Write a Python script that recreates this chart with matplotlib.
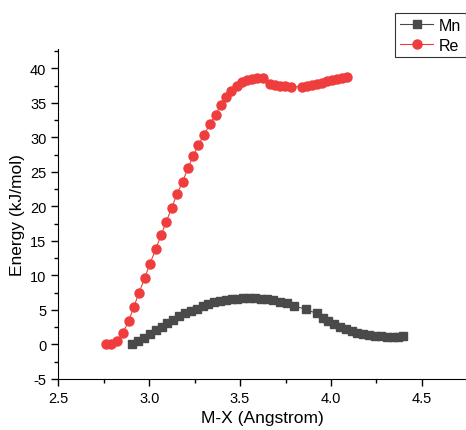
import numpy as np
import matplotlib.pyplot as plt
from matplotlib.ticker import MultipleLocator

plt.rcParams['font.family'] = ['Liberation Sans', 'DejaVu Sans']
plt.rcParams['axes.unicode_minus'] = False

# Mn scan
mn_x = [2.905, 2.940, 2.971, 3.004, 3.036, 3.068, 3.099, 3.132, 3.165, 3.197,
        3.228, 3.261, 3.294, 3.325, 3.358, 3.389, 3.422, 3.454, 3.484, 3.517,
        3.550, 3.581, 3.615, 3.646, 3.682, 3.720, 3.756, 3.796, 3.860, 3.921,
        3.954, 3.985, 4.016, 4.049, 4.082, 4.113, 4.144, 4.177, 4.210, 4.241,
        4.274, 4.306, 4.339, 4.370, 4.398]
mn_y = [0.06, 0.5, 1.0, 1.5, 2.1, 2.6, 3.1, 3.6, 4.1, 4.5,
        4.9, 5.2, 5.6, 5.85, 6.1, 6.3, 6.45, 6.55, 6.65, 6.7,
        6.7, 6.7, 6.65, 6.6, 6.45, 6.2, 6.0, 5.6, 5.1, 4.5,
        3.9, 3.4, 2.95, 2.55, 2.2, 1.9, 1.6, 1.45, 1.35, 1.25,
        1.2, 1.15, 1.15, 1.15, 1.2]

# Re scan
re_x = [2.762, 2.790, 2.823, 2.856, 2.887, 2.915, 2.944, 2.975, 3.004, 3.036,
        3.065, 3.094, 3.124, 3.153, 3.184, 3.213, 3.242, 3.271, 3.302, 3.334,
        3.365, 3.395, 3.424, 3.451, 3.481, 3.508, 3.536, 3.563, 3.591, 3.625,
        3.664, 3.691, 3.719, 3.747, 3.780, 3.838, 3.866, 3.893, 3.921, 3.948,
        3.976, 4.003, 4.031, 4.058, 4.086]
re_y = [0.0, 0.0, 0.5, 1.7, 3.4, 5.4, 7.5, 9.6, 11.7, 13.8,
        15.8, 17.8, 19.8, 21.8, 23.6, 25.5, 27.3, 28.9, 30.4, 31.9,
        33.3, 34.7, 35.8, 36.7, 37.4, 38.0, 38.3, 38.45, 38.55, 38.65,
        37.8, 37.6, 37.5, 37.5, 37.35, 37.35, 37.5, 37.6, 37.8, 37.9,
        38.1, 38.3, 38.5, 38.65, 38.8]

fig = plt.figure(figsize=(4.66, 4.31), dpi=100)
ax = fig.add_axes([58.3 / 466, 51 / 431, 409 / 466, 330 / 431])

ax.plot(mn_x, mn_y, color='#4a4a4a', marker='s', markersize=6, linewidth=0.8,
        label='Mn')
ax.plot(re_x, re_y, color='#ef3d3d', marker='o', markersize=6.5, linewidth=0.8,
        label='Re')

ax.set_xlim(2.5, 4.75)
ax.set_ylim(-5, 42.8)
ax.xaxis.set_major_locator(MultipleLocator(0.5))
ax.xaxis.set_minor_locator(MultipleLocator(0.25))
ax.yaxis.set_major_locator(MultipleLocator(5))
ax.yaxis.set_minor_locator(MultipleLocator(2.5))
ax.xaxis.set_major_formatter(plt.FormatStrFormatter('%.1f'))
ax.tick_params(which='major', direction='out', length=5, width=1, labelsize=10.5)
ax.tick_params(which='minor', direction='out', length=3, width=1)
ax.spines['top'].set_visible(False)
ax.spines['right'].set_visible(False)

ax.set_xlabel('M-X (Angstrom)', fontsize=12.5)
ax.set_ylabel('Energy (kJ/mol)', fontsize=12.5)

leg = fig.legend(loc='upper left', bbox_to_anchor=(395 / 466, 1 - 14 / 431),
                 fontsize=11.5, frameon=True, fancybox=False, edgecolor='black',
                 handlelength=2.1, borderpad=0.3, labelspacing=0.3,
                 handletextpad=0.35, borderaxespad=0)
leg.get_frame().set_linewidth(0.8)

fig.savefig('out.png', dpi=100)
